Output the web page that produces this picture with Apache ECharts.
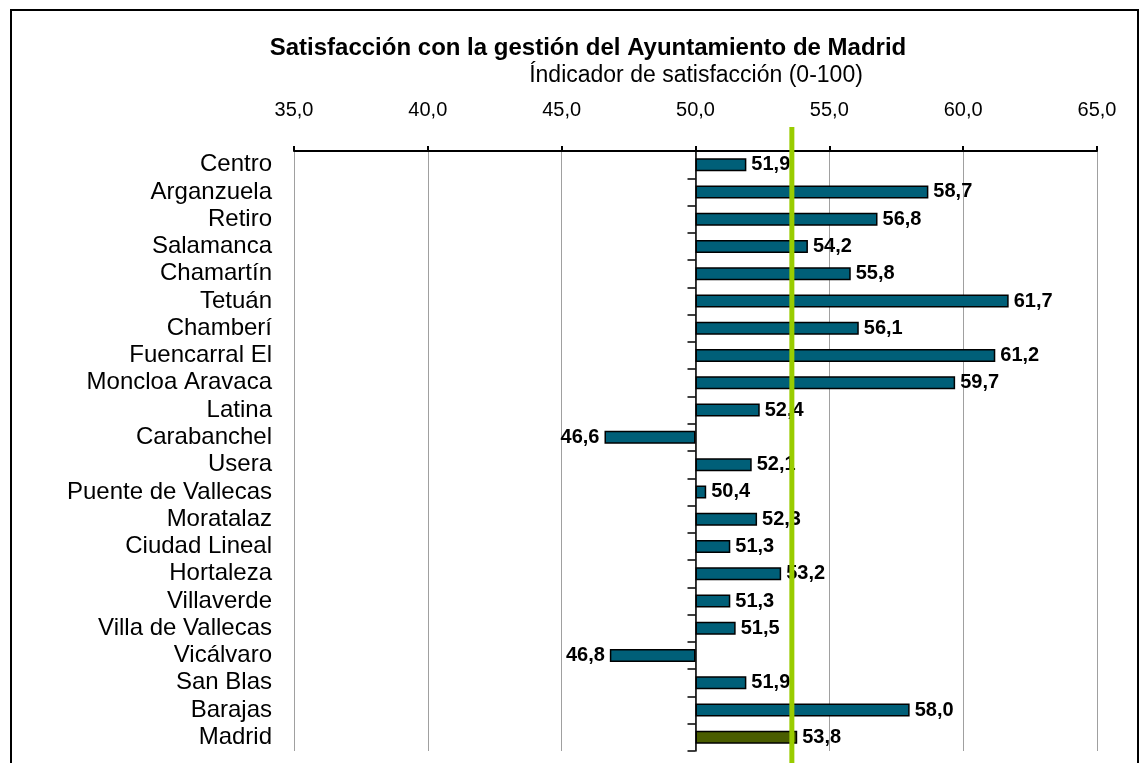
<!DOCTYPE html>
<html>
<head>
<meta charset="utf-8">
<script src="https://cdn.jsdelivr.net/npm/echarts@6/dist/echarts.min.js"></script>
<style>
  html, body { margin: 0; padding: 0; background: #fff; }
  #main { width: 1140px; height: 763px; }
</style>
</head>
<body>
<div id="main"></div>
<script>
var districts = [
  "Centro", "Arganzuela", "Retiro", "Salamanca", "Chamartín", "Tetuán",
  "Chamberí", "Fuencarral El", "Moncloa Aravaca", "Latina", "Carabanchel",
  "Usera", "Puente de Vallecas", "Moratalaz", "Ciudad Lineal", "Hortaleza",
  "Villaverde", "Villa de Vallecas", "Vicálvaro", "San Blas", "Barajas", "Madrid"
];
var scores = [
  51.9, 58.7, 56.8, 54.2, 55.8, 61.7,
  56.1, 61.2, 59.7, 52.4, 46.6,
  52.1, 50.4, 52.3, 51.3, 53.2,
  51.3, 51.5, 46.8, 51.9, 58.0, 53.8
];
var baseline = 50;         // bars grow from here
var referenceValue = 53.6; // green vertical line
var axisMin = 35, axisMax = 65, axisStep = 5;

var font = "'Liberation Sans', Arial, sans-serif";
function fmt(v) { return v.toFixed(1).replace(".", ","); }

var barData = scores.map(function (v, i) {
  var isTotal = districts[i] === "Madrid";
  return {
    value: +(v - baseline).toFixed(2),
    itemStyle: { color: isTotal ? "#4a5d00" : "#005f78" },
    label: { position: v < baseline ? "left" : "right" }
  };
});

var chart = echarts.init(document.getElementById("main"));
chart.setOption({
  backgroundColor: "#fff",
  animation: false,
  graphic: [
    { type: "rect", shape: { x: 11, y: 10, width: 1127, height: 800 },
      style: { fill: null, stroke: "#000", lineWidth: 2 }, silent: true },
    { type: "text", x: 588, y: 48,
      style: { text: "Satisfacción con la gestión del Ayuntamiento de Madrid",
        font: "bold 24px " + font, fill: "#000", textAlign: "center", textVerticalAlign: "middle" } },
    { type: "text", x: 696, y: 76,
      style: { text: "Índicador de satisfacción (0-100)",
        font: "23px " + font, fill: "#000", textAlign: "center", textVerticalAlign: "middle" } }
  ],
  grid: { left: 294, right: 43, top: 151, bottom: 12 },
  xAxis: {
    type: "value",
    position: "top",
    min: axisMin - baseline,
    max: axisMax - baseline,
    interval: axisStep,
    axisLine: { show: true, lineStyle: { color: "#000", width: 2 } },
    axisTick: { show: true, length: 5, lineStyle: { color: "#000", width: 2 } },
    axisLabel: {
      margin: 31, color: "#000", fontFamily: font, fontSize: 20,
      formatter: function (v) { return fmt(v + baseline); }
    },
    splitLine: { show: true, lineStyle: { color: "#a0a0a0", width: 1 } }
  },
  yAxis: [
    {
      type: "category",
      data: districts,
      inverse: true,
      axisLine: { show: true, onZero: true, lineStyle: { color: "#000", width: 1.5 } },
      axisTick: { show: true, length: 8, lineStyle: { color: "#000", width: 1.5 } },
      axisLabel: { show: false }
    },
    {
      type: "category",
      data: districts,
      inverse: true,
      position: "left",
      axisLine: { show: false, onZero: false },
      axisTick: { show: false },
      axisLabel: { interval: 0, margin: 22, color: "#000", fontFamily: font, fontSize: 24 }
    }
  ],
  series: [
    {
      type: "bar",
      data: barData,
      barWidth: 13,
      itemStyle: { borderColor: "#000", borderWidth: 1.5 },
      label: {
        show: true,
        distance: 5,
        color: "#000",
        fontFamily: font,
        fontSize: 20,
        fontWeight: "bold",
        formatter: function (p) { return fmt(scores[p.dataIndex]); }
      },
      z: 2
    },
    {
      type: "custom",
      z: 10,
      clip: false,
      data: [[referenceValue - baseline, 0]],
      renderItem: function (params, api) {
        var x = api.coord([api.value(0), 0])[0];
        var cs = params.coordSys;
        return {
          type: "line",
          shape: { x1: x, y1: cs.y - 24, x2: x, y2: cs.y + cs.height + 20 },
          style: { stroke: "#99cc00", lineWidth: 5 }
        };
      }
    }
  ]
});
</script>
</body>
</html>
